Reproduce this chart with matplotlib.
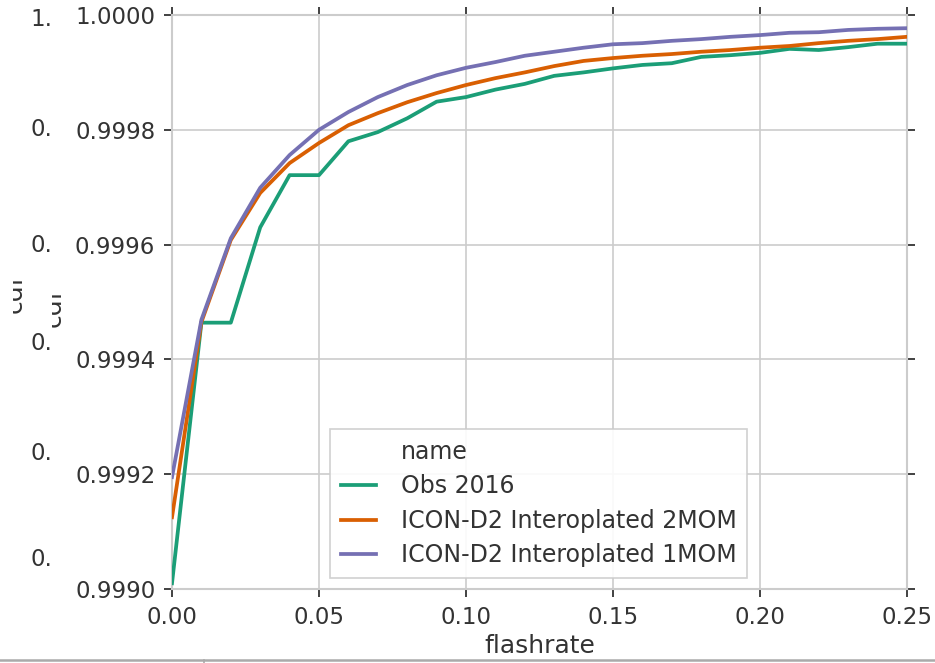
import matplotlib
matplotlib.use('Agg')
import matplotlib.pyplot as plt
import matplotlib.lines as mlines
from matplotlib.transforms import Bbox
import numpy as np

# ---- data ----
flashrate = [0.00, 0.01, 0.02, 0.03, 0.04, 0.05, 0.06, 0.07, 0.08, 0.09,
             0.10, 0.11, 0.12, 0.13, 0.14, 0.15, 0.16, 0.17, 0.18, 0.19,
             0.20, 0.21, 0.22, 0.23, 0.24, 0.25]

obs_2016 = [0.99901, 0.999464, 0.999464, 0.99963, 0.999721, 0.999721, 0.99978,
            0.999796, 0.99982, 0.999849, 0.999857, 0.99987, 0.99988, 0.999894,
            0.9999, 0.999907, 0.999913, 0.999916, 0.999927, 0.99993, 0.999934,
            0.999941, 0.999939, 0.999944, 0.99995, 0.99995]

icon_2mom = [0.999125, 0.999465, 0.999608, 0.99969, 0.999742, 0.999777, 0.999808,
             0.999829, 0.999848, 0.999864, 0.999878, 0.99989, 0.9999, 0.999911,
             0.99992, 0.999925, 0.999929, 0.999932, 0.999936, 0.999939, 0.999943,
             0.999946, 0.999951, 0.999955, 0.999958, 0.999962]

icon_1mom = [0.999195, 0.999469, 0.999611, 0.999699, 0.999756, 0.9998, 0.999831,
             0.999857, 0.999878, 0.999895, 0.999908, 0.999918, 0.999929, 0.999936,
             0.999943, 0.999949, 0.999951, 0.999955, 0.999958, 0.999962, 0.999965,
             0.999969, 0.99997, 0.999974, 0.999976, 0.999977]

names = ['Obs 2016', 'ICON-D2 Interoplated 2MOM', 'ICON-D2 Interoplated 1MOM']
colors = ['#1b9e77', '#d95f02', '#7570b3']

xticks = [0.00, 0.05, 0.10, 0.15, 0.20, 0.25]
yticks = [0.9990, 0.9992, 0.9994, 0.9996, 0.9998, 1.0000]

W, H = 935, 663
fig = plt.figure(figsize=(W / 100, H / 100), dpi=100)
fig.patch.set_facecolor('white')

def fx(px):
    return px / W

def fy(py):
    return 1 - py / H

# ---- leftover labels of a hidden axes behind the plot ----
for py, s in [(20, '1.'), (129, '0.'), (246, '0.'), (343, '0.'), (453, '0.'), (560, '0.')]:
    fig.text(fx(52), fy(py), s, ha='right', va='center', fontsize=16.5, color='#333333')

for bx, cy, clip_x in [(22, 294, 13), (61, 308, 52)]:
    t = fig.text(fx(bx), fy(cy), 'cdf', rotation=90, rotation_mode='anchor',
                 ha='center', va='baseline', fontsize=18, color='#333333')
    t.set_clip_box(Bbox([[clip_x, 0], [W, H]]))
    t.set_clip_on(True)

# ---- main axes ----
ax = fig.add_axes([fx(172), fy(589), fx(907) - fx(172), fy(15) - fy(589)])
ax.set_facecolor('white')

for vals, nm, c in zip([obs_2016, icon_2mom, icon_1mom], names, colors):
    ax.plot(flashrate, vals, color=c, lw=2.7, label=nm, zorder=3)

ax.set_xlim(0, 0.25)
ax.set_ylim(0.9990, 1.0000)
ax.set_xticks(xticks)
ax.set_yticks(yticks)
ax.set_xticklabels(['%.2f' % v for v in xticks])
ax.set_yticklabels(['%.4f' % v for v in yticks])
ax.grid(True, color='#cccccc', lw=1.2, zorder=0)
ax.set_axisbelow(True)
for sp in ax.spines.values():
    sp.set_color('#cccccc')
    sp.set_linewidth(1.5)
ax.tick_params(axis='both', which='both', direction='out', length=6, width=1.3,
               color='#333333', labelsize=16.5, labelcolor='#333333',
               top=True, right=True, labeltop=False, labelright=False, pad=6)
ax.set_xlabel('flashrate', fontsize=18, color='#333333', labelpad=4)

# legend with seaborn-like "name" title row
title_handle = mlines.Line2D([], [], color='none')
handles = [title_handle] + [mlines.Line2D([], [], color=c, lw=2.7) for c in colors]
labels = ['name'] + names
leg = ax.legend(handles, labels, loc='lower left', bbox_to_anchor=(0.215, 0.019),
                borderaxespad=0, fontsize=17, frameon=True, fancybox=False,
                handlelength=1.5, handletextpad=1.05, labelspacing=0.45,
                borderpad=0.45, labelcolor='#333333')
leg.get_frame().set_edgecolor('#cccccc')
leg.get_frame().set_linewidth(1.2)
leg.get_frame().set_alpha(0.9)

# ---- thin frame line at the bottom of the screenshot ----
fig.add_artist(mlines.Line2D([0, 1], [fy(660), fy(660)], color='#aaaaaa', lw=1.8))
fig.add_artist(mlines.Line2D([fx(204), fx(204)], [fy(660), 0], color='#aaaaaa', lw=1.2))

fig.savefig('out.png', dpi=100, facecolor='white')
